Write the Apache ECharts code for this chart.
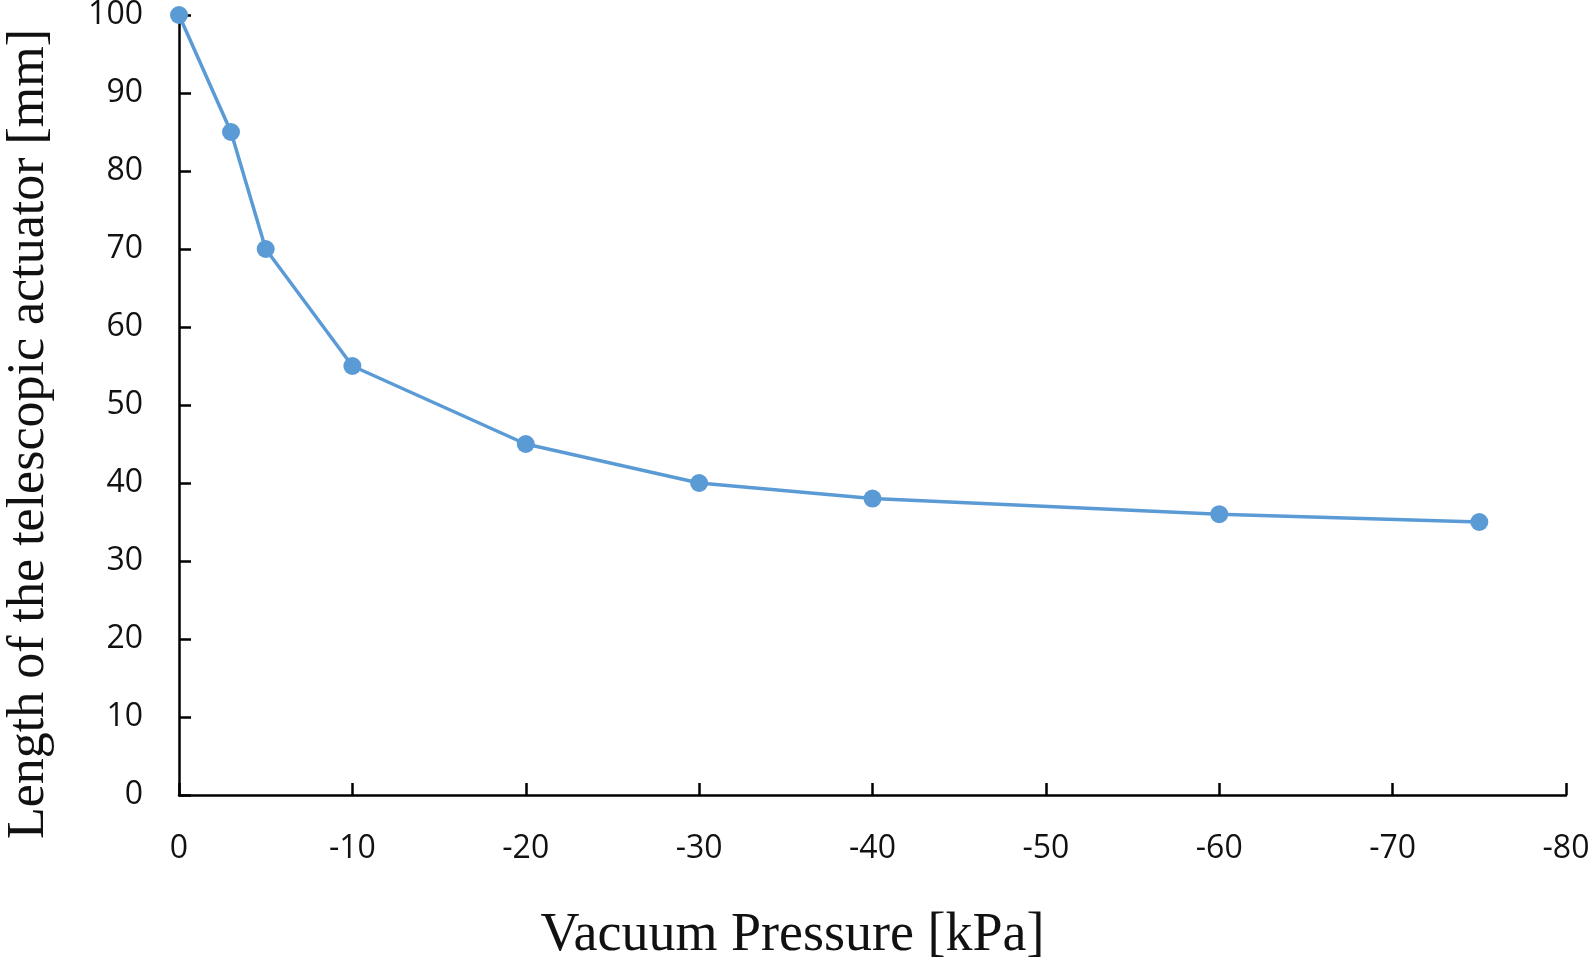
<!DOCTYPE html>
<html>
<head>
<meta charset="utf-8">
<script src="https://cdn.jsdelivr.net/npm/echarts@6/dist/echarts.min.js"></script>
<style>html,body{margin:0;padding:0;background:#fff;}#c{width:1594px;height:957px;}</style>
</head>
<body>
<div id="c"></div>
<script>
const pressure = [0, -3, -5, -10, -20, -30, -40, -60, -75];
const lengthMm = [100, 85, 70, 55, 45, 40, 38, 36, 35];
const xTitle = 'Vacuum Pressure [kPa]';
const yTitle = 'Length of the telescopic actuator [mm]';

const chart = echarts.init(document.getElementById('c'));
const axisCommon = {
  axisLine: { show: true, onZero: false, lineStyle: { color: '#000', width: 2.5 } },
  axisTick: { show: true, inside: true, length: 12, lineStyle: { color: '#000', width: 2.5 } },
  splitLine: { show: false },
  axisLabel: { color: '#111', fontFamily: 'Open Sans', fontSize: 32 }
};
chart.setOption({
  animation: false,
  backgroundColor: '#fff',
  grid: { left: 179, right: 28, top: 15, bottom: 162, containLabel: false, outerBoundsMode: 'none' },
  xAxis: Object.assign({}, axisCommon, {
    type: 'value', min: -80, max: 0, interval: 10, inverse: true,
    name: xTitle, nameLocation: 'middle', nameGap: 114,
    nameTextStyle: { fontFamily: 'Liberation Serif', fontSize: 54, color: '#111', padding: [0, 160, 0, 0] },
    axisLabel: Object.assign({}, axisCommon.axisLabel, { margin: 38 })
  }),
  yAxis: Object.assign({}, axisCommon, {
    type: 'value', min: 0, max: 100, interval: 10, position: 'left',
    name: yTitle, nameLocation: 'middle', nameGap: 124, nameRotate: 90,
    nameTextStyle: { fontFamily: 'Liberation Serif', fontSize: 52, color: '#111', padding: [0, 58, 0, 0] },
    axisLabel: Object.assign({}, axisCommon.axisLabel, { margin: 36 })
  }),
  series: [{
    type: 'line',
    data: pressure.map((p, i) => [p, lengthMm[i]]),
    symbol: 'circle', symbolSize: 18,
    itemStyle: { color: '#5b9bd5' },
    lineStyle: { color: '#5b9bd5', width: 3.5 }
  }]
});
</script>
</body>
</html>
